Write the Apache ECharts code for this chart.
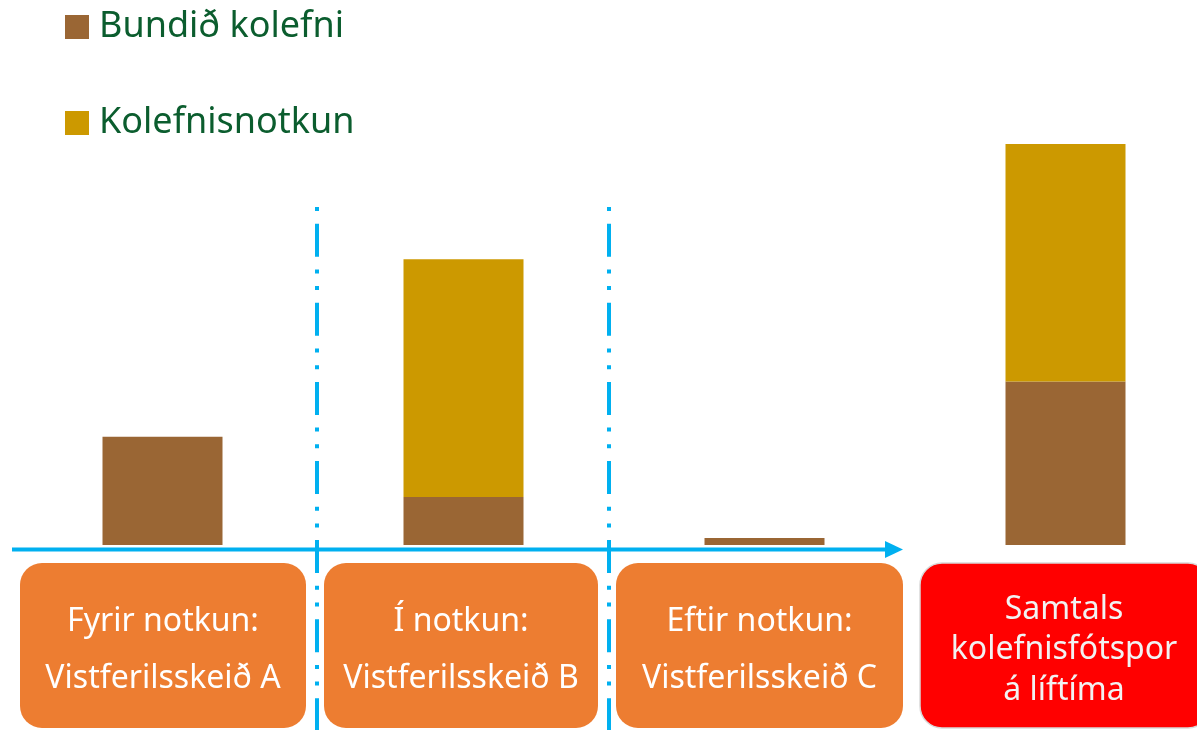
<!DOCTYPE html>
<html>
<head>
<meta charset="utf-8">
<script src="https://cdn.jsdelivr.net/npm/echarts@6/dist/echarts.min.js"></script>
<style>
  html, body { margin: 0; padding: 0; background: #fff; }
  #chart { width: 1197px; height: 730px; }
</style>
</head>
<body>
<div id="chart"></div>
<script>
// stage categories (left to right), last one is the lifetime total
const categories = ['Fyrir notkun', 'Í notkun', 'Eftir notkun', 'Samtals'];
const seriesNames = ['Bundið kolefni', 'Kolefnisnotkun'];
const bundid = [10.8, 4.8, 0.7, 16.3];
const notkun = ['-', 23.7, '-', 23.7];
const boxLabels = [
  'Fyrir notkun:\nVistferilsskeið A',
  'Í notkun:\nVistferilsskeið B',
  'Eftir notkun:\nVistferilsskeið C',
  'Samtals\nkolefnisfótspor\ná líftíma'
];

const FONT = '"Noto Sans", sans-serif';
const BLUE = '#00B0F0';

const chart = echarts.init(document.getElementById('chart'));

// decorations: axis arrow, dash-dot separators, label boxes
const graphics = [];
graphics.push({
  type: 'line', silent: true, z: 10,
  shape: { x1: 12, y1: 549.5, x2: 888, y2: 549.5 },
  style: { stroke: BLUE, lineWidth: 4 }
});
graphics.push({
  type: 'polygon', silent: true, z: 10,
  shape: { points: [[885, 541], [903, 549.5], [885, 558]] },
  style: { fill: BLUE }
});
[317, 609].forEach(x => {
  graphics.push({
    type: 'line', silent: true, z: 10,
    shape: { x1: x, y1: 207, x2: x, y2: 730 },
    style: { stroke: BLUE, lineWidth: 4, lineDash: [4, 12.7, 33, 12.7, 4, 12.7], lineCap: 'butt' }
  });
});
const boxes = [
  { x: 20, w: 286, fill: '#ED7D31', color: '#ffffff', lh: 57 },
  { x: 324, w: 274, fill: '#ED7D31', color: '#ffffff', lh: 57 },
  { x: 616, w: 287, fill: '#ED7D31', color: '#ffffff', lh: 57 },
  { x: 920, w: 290, fill: '#FF0000', color: '#f2f2f2', lh: 40.5, stroke: '#d9d9d9' }
];
boxes.forEach((b, i) => {
  graphics.push({
    type: 'rect', silent: true, z: 5,
    shape: { x: b.x, y: 563, width: b.w, height: 165, r: 22 },
    style: { fill: b.fill, stroke: b.stroke || null, lineWidth: b.stroke ? 1.5 : 0 }
  });
  graphics.push({
    type: 'text', silent: true, z: 6,
    x: b.x + b.w / 2 - (i === 3 ? 1 : 0), y: 650,
    style: {
      text: boxLabels[i], fill: b.color, fontFamily: FONT, fontSize: 32,
      align: 'center', verticalAlign: 'middle', lineHeight: b.lh
    }
  });
});

chart.setOption({
  animation: false,
  legend: {
    orient: 'vertical', left: 65, top: 9, padding: 0,
    itemWidth: 24, itemHeight: 24, itemGap: 60,
    icon: 'rect',
    data: seriesNames,
    textStyle: { color: '#0b5d2e', fontSize: 36, fontFamily: FONT, padding: [0, 0, 0, 5] }
  },
  // category centres sit on the grid edges, so the last bar may run off the page
  grid: { left: 162.5, top: 144, bottom: 185, width: 903 },
  xAxis: {
    type: 'category', data: categories, boundaryGap: false,
    axisLine: { show: false }, axisTick: { show: false }, axisLabel: { show: false }
  },
  yAxis: {
    type: 'value', min: 0, max: 40, show: false,
    splitLine: { show: false }
  },
  series: [
    { name: seriesNames[0], type: 'bar', stack: 'total', barWidth: 120, data: bundid, itemStyle: { color: '#9A6634' } },
    { name: seriesNames[1], type: 'bar', stack: 'total', barWidth: 120, data: notkun, itemStyle: { color: '#CC9900' } }
  ],
  graphic: graphics
});

window.addEventListener('resize', () => chart.resize());
</script>
</body>
</html>
